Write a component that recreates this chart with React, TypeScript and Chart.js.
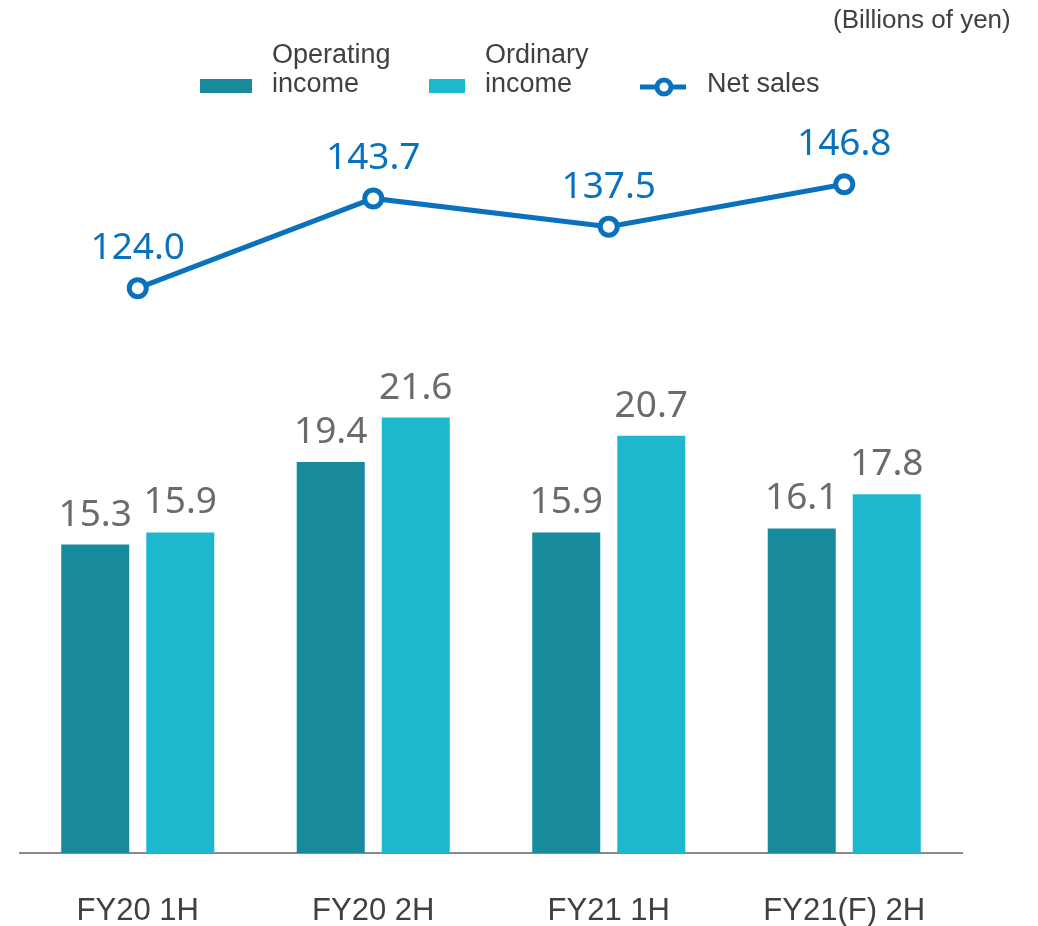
import React, { useEffect, useRef } from "react";
import { Chart, registerables } from "chart.js";

Chart.register(...registerables);

const categories = ["FY20 1H", "FY20 2H", "FY21 1H", "FY21(F) 2H"];
const operatingIncome = [15.3, 19.4, 15.9, 16.1];
const ordinaryIncome = [15.9, 21.6, 20.7, 17.8];
const netSales = [124.0, 143.7, 137.5, 146.8];

const OP_COLOR = "#178b9b";
const ORD_COLOR = "#1eb8ce";
const LINE_COLOR = "#0a72bd";
const BAR_LABEL_COLOR = "#6b6b6b";
const TEXT_COLOR = "#404040";

const valueLabels = {
  id: "valueLabels",
  afterDatasetsDraw(chart: any) {
    const ctx = chart.ctx;
    ctx.save();
    ctx.textAlign = "center";
    ctx.textBaseline = "alphabetic";
    chart.data.datasets.forEach((ds: any, i: number) => {
      const meta = chart.getDatasetMeta(i);
      meta.data.forEach((el: any, j: number) => {
        const v = ds.data[j] as number;
        if (ds.type === "line") {
          ctx.fillStyle = LINE_COLOR;
          ctx.font = "37px 'Noto Sans'";
          ctx.fillText(v.toFixed(1), el.x, el.y - 29);
        } else {
          ctx.fillStyle = BAR_LABEL_COLOR;
          ctx.font = "37px 'Noto Sans'";
          ctx.fillText(v.toFixed(1), el.x, el.y - 19);
        }
      });
    });
    ctx.restore();
  },
};

const legendAndNote = {
  id: "legendAndNote",
  afterDraw(chart: any) {
    const ctx = chart.ctx;
    ctx.save();
    ctx.fillStyle = TEXT_COLOR;
    ctx.textAlign = "left";
    ctx.textBaseline = "alphabetic";
    ctx.font = "26px 'Liberation Sans', Arial, sans-serif";
    ctx.fillText("(Billions of yen)", 833, 28);

    ctx.font = "27px 'Liberation Sans', Arial, sans-serif";
    // Operating income
    ctx.fillStyle = OP_COLOR;
    ctx.fillRect(200, 79, 52, 14);
    ctx.fillStyle = TEXT_COLOR;
    ctx.fillText("Operating", 272, 63);
    ctx.fillText("income", 272, 92);
    // Ordinary income
    ctx.fillStyle = ORD_COLOR;
    ctx.fillRect(429, 79, 36, 14);
    ctx.fillStyle = TEXT_COLOR;
    ctx.fillText("Ordinary", 485, 63);
    ctx.fillText("income", 485, 92);
    // Net sales
    ctx.strokeStyle = LINE_COLOR;
    ctx.lineWidth = 5;
    ctx.beginPath();
    ctx.moveTo(640, 87);
    ctx.lineTo(686, 87);
    ctx.stroke();
    ctx.beginPath();
    ctx.arc(664, 87, 7, 0, Math.PI * 2);
    ctx.fillStyle = "#ffffff";
    ctx.fill();
    ctx.stroke();
    ctx.fillStyle = TEXT_COLOR;
    ctx.fillText("Net sales", 707, 92);
    ctx.restore();
  },
};

export default function App() {
  const ref = useRef<HTMLCanvasElement>(null);
  useEffect(() => {
    if (!ref.current) return;
    const chart = new Chart(ref.current, {
      type: "bar",
      data: {
        labels: categories,
        datasets: [
          {
            type: "line",
            label: "Net sales",
            data: netSales,
            yAxisID: "y2",
            borderColor: LINE_COLOR,
            borderWidth: 5,
            pointRadius: 8.5,
            pointBorderWidth: 5,
            pointBackgroundColor: "#ffffff",
            pointBorderColor: LINE_COLOR,
            tension: 0,
            order: 0,
          } as any,
          {
            type: "bar",
            label: "Operating income",
            data: operatingIncome,
            yAxisID: "y",
            backgroundColor: OP_COLOR,
            barPercentage: 0.8,
            categoryPercentage: 0.722,
            order: 1,
          },
          {
            type: "bar",
            label: "Ordinary income",
            data: ordinaryIncome,
            yAxisID: "y",
            backgroundColor: ORD_COLOR,
            barPercentage: 0.8,
            categoryPercentage: 0.722,
            order: 1,
          },
        ],
      },
      options: {
        responsive: false,
        animation: false,
        layout: { padding: { top: 100, left: 20, right: 76, bottom: -44 } },
        plugins: {
          legend: { display: false },
          tooltip: { enabled: false },
        },
        scales: {
          x: {
            grid: { display: false, drawTicks: false },
            border: { display: true, color: "#8a8a8a", width: 2 },
            ticks: {
              color: TEXT_COLOR,
              padding: 43,
              font: { family: "'Liberation Sans', Arial, sans-serif", size: 31, lineHeight: 1 },
            },
          },
          y: {
            display: false,
            min: 0,
            max: 37.35,
          },
          y2: {
            display: false,
            min: 0,
            max: 165.3,
          },
        },
      },
      plugins: [valueLabels, legendAndNote],
    });
    return () => chart.destroy();
  }, []);
  return (
    <div style={{ position: "absolute", left: 0, top: 0, width: 1038, height: 926 }}>
      <canvas ref={ref} width={1038} height={926} style={{ display: "block" }} />
    </div>
  );
}
